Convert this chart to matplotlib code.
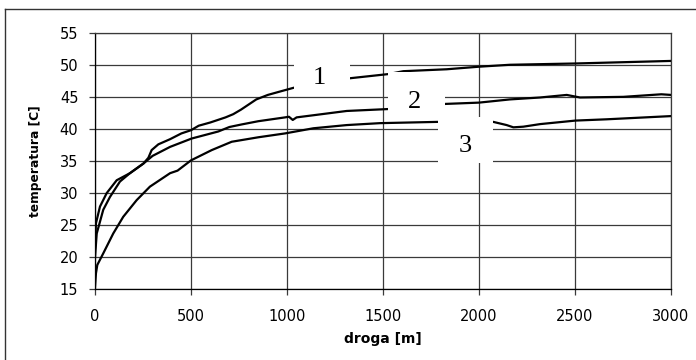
import matplotlib
matplotlib.use("Agg")
import numpy as np
import matplotlib.pyplot as plt
from matplotlib.patches import Rectangle

# curve data (droga [m], temperatura [C])
x1 = [0, 9, 43, 78, 130, 182, 252, 278, 295, 330, 391, 450, 500, 540, 600, 680,
      720, 760, 800, 840, 900, 960, 1033, 1100, 1200, 1328, 1528, 1606, 1832,
      2000, 2161, 2500, 2750, 3000]
t1 = [20.0, 23.7, 27.4, 29.4, 31.8, 33.1, 34.6, 35.5, 36.7, 37.6, 38.4, 39.3,
      39.8, 40.5, 41.0, 41.8, 42.3, 43.0, 43.8, 44.6, 45.3, 45.8, 46.4, 46.9,
      47.4, 47.9, 48.55, 49.0, 49.3, 49.7, 50.0, 50.2, 50.4, 50.6]

x2 = [0, 5, 26, 61, 113, 182, 252, 300, 391, 503, 642, 700, 764, 850, 990,
      1010, 1030, 1050, 1155, 1311, 1528, 1826, 2000, 2161, 2318, 2457, 2526,
      2752, 2950, 3000]
t2 = [21.5, 25.3, 27.9, 30.0, 32.0, 33.1, 34.6, 35.8, 37.2, 38.5, 39.6, 40.3,
      40.7, 41.2, 41.8, 41.9, 41.4, 41.8, 42.2, 42.8, 43.1, 43.9, 44.1, 44.6,
      44.9, 45.3, 44.9, 45.0, 45.4, 45.3]

x3 = [0, 5, 12, 43, 95, 147, 217, 286, 391, 430, 500, 608, 712, 851, 990, 1137,
      1311, 1484, 1788, 2074, 2144, 2179, 2231, 2318, 2502, 2665, 3000]
t3 = [15.4, 17.5, 18.8, 20.6, 23.7, 26.3, 28.9, 31.0, 33.1, 33.5, 35.1, 36.7,
      38.0, 38.7, 39.3, 40.1, 40.6, 40.9, 41.1, 41.1, 40.6, 40.25, 40.35, 40.75,
      41.3, 41.5, 42.0]

curve_labels = ["1", "2", "3"]

fig = plt.figure(figsize=(6.96, 3.6), dpi=100)
ax = fig.add_axes([95/696, 1-289.3/360, 576/696, 256.6/360])

for xs, ts in [(x1, t1), (x2, t2), (x3, t3)]:
    ax.plot(xs, ts, color="black", lw=1.6, zorder=2)

ax.set_xlim(0, 3000)
ax.set_ylim(15, 55)
ax.set_xticks(np.arange(0, 3001, 500))
ax.set_yticks(np.arange(15, 56, 5))
ax.grid(True, color="#3a3a3a", lw=0.9)
ax.set_axisbelow(True)

for s in ax.spines.values():
    s.set_color("#3a3a3a")
    s.set_linewidth(0.9)
ax.spines["left"].set_color("black")
ax.spines["bottom"].set_color("black")

# the scanned chart has wide glyphs, DejaVu is closer than Arial here
ax.tick_params(axis="both", length=4, width=0.9, color="#3a3a3a",
               labelsize=10.5)
ax.tick_params(axis="x", pad=10)
ax.tick_params(axis="y", pad=8)
for lab in ax.get_xticklabels() + ax.get_yticklabels():
    lab.set_fontfamily("DejaVu Sans")

ax.set_xlabel("droga [m]", fontsize=10, fontweight="bold",
              family="DejaVu Sans", labelpad=6)
ax.set_ylabel("temperatura [C]", fontsize=8.8, fontweight="bold",
              family="DejaVu Sans", labelpad=13)

# white label boxes covering the lines, like in the original
boxes = [(1036, 45.1, 292, 6.7), (1526, 41.5, 297, 7.4), (1786, 34.7, 287, 7.15)]
for bx, by, bw, bh in boxes:
    ax.add_patch(Rectangle((bx, by), bw, bh, facecolor="white",
                           edgecolor="none", zorder=3))
label_pos = [(1169, 47.0), (1664, 43.3), (1926, 36.35)]
for txt, (lx, ly) in zip(curve_labels, label_pos):
    ax.text(lx, ly, txt, ha="center", va="baseline", fontsize=19,
            family="Liberation Serif", zorder=4)

# outer frame (only top and left edges visible)
fig.add_artist(plt.Line2D([5/696, 1], [1-9/360, 1-9/360],
                          transform=fig.transFigure, color="#333333", lw=1))
fig.add_artist(plt.Line2D([5/696, 5/696], [0, 1-9/360],
                          transform=fig.transFigure, color="#333333", lw=1))

fig.savefig("out.png", dpi=100)
